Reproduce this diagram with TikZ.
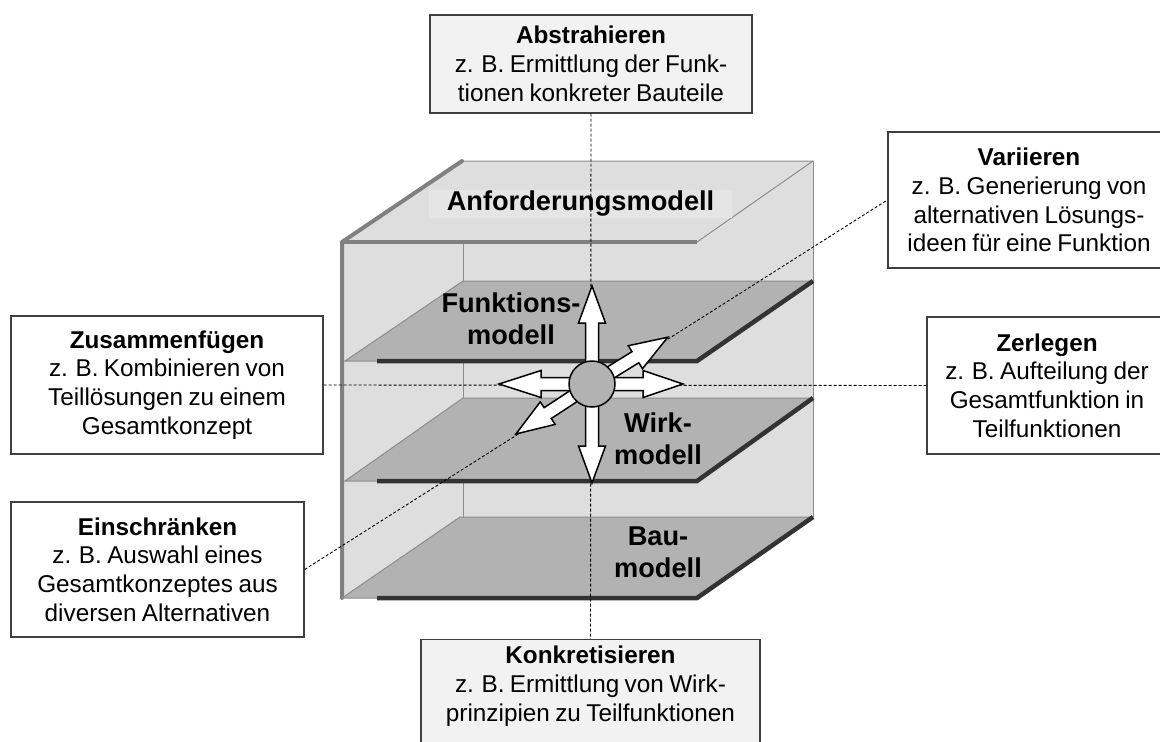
\documentclass[tikz,border=0pt]{standalone}
\usepackage{fontspec}
\setmainfont{Liberation Sans}[WordSpace=0.8]
\newcommand\dgboxfont{\fontsize{24.3}{28.7}\selectfont}
\newcommand\dglabelfont{\fontsize{27.2}{32}\selectfont\bfseries}
\definecolor{cubefill}{gray}{0.87}
\definecolor{labelbg}{gray}{0.9}
\definecolor{planefill}{gray}{0.7}
\definecolor{edgethick}{gray}{0.5}
\definecolor{edgethin}{gray}{0.55}
\definecolor{planeedge}{gray}{0.2}
\definecolor{boxline}{gray}{0.25}
\definecolor{boxfill}{gray}{0.95}
% block arrow leaving the hub: angle, tip distance, head length
\newcommand\dgarrow[3]{%
  \draw[blockarrow, shift={(hubc)}, rotate=#1]
    (15,-6.5) -- (#2-#3,-6.5) -- (#2-#3,-13.5) -- (#2,0)
    -- (#2-#3,13.5) -- (#2-#3,6.5) -- (15,6.5) -- cycle;}
\begin{document}
\begin{tikzpicture}[x=1pt,y=-1pt,
  box/.style={draw=boxline, line width=1.3pt, inner sep=0pt, align=center, font=\dgboxfont},
  planelabel/.style={align=center, inner sep=0pt, font=\dglabelfont},
  thinedge/.style={draw=edgethin, line width=1pt},
  thickedge/.style={draw=edgethick, line width=4pt},
  planefront/.style={draw=planeedge, line width=4.5pt, line join=miter},
  guide/.style={draw=black, line width=0.9pt, dash pattern=on 3pt off 2pt},
  blockarrow/.style={fill=white, draw=black, line width=1.5pt, line join=miter}]
\useasboundingbox (0,0) rectangle (1160,742);
\clip (0,0) rectangle (1160,742);

% cube body and back edges
\fill[cubefill] (342,242) -- (462,161) -- (813,161) -- (813,517) -- (697,598) -- (342,598) -- cycle;
\draw[thinedge] (463,242) -- (463,517) -- (813,517);
\draw[thinedge] (813,161) -- (813,517);
% top face
\draw[thinedge] (462,161) -- (813,161) -- (697,242);
\draw[thickedge, line cap=round] (342,598) -- (342,242) -- (462,161);
\draw[thickedge] (342,242) -- (697,242);

% layer planes
\foreach \yb/\yf/\xl in {281/361/345, 398/481/345, 517/598/342} {
  \filldraw[fill=planefill, draw=edgethin, line width=1pt]
    (\xl,\yf) -- (\xl+118,\yb) -- (813,\yb) -- (697,\yf) -- cycle;
  \draw[planefront] (377,\yf) -- (697,\yf) -- (813,\yb);
}

% layer labels
\node[fill=labelbg, minimum width=303pt, minimum height=28pt, inner sep=0pt] (anfbg) at (580.5,204) {};
\node[planelabel] (anf) at (580.5,204) {Anforderungsmodell};
\node[planelabel] (fkt) at (511,319) {Funktions-\\modell};
\node[planelabel] (wirk) at (658,439) {Wirk-\\modell};
\node[planelabel] (bau) at (658,552) {Bau-\\modell};

% operation boxes
\node[box, fill=boxfill, minimum width=322pt, minimum height=98pt] (abst) at (591,64)
  {\textbf{Abstrahieren}\\z. B. Ermittlung der Funk-\\tionen konkreter Bauteile};
\node[box, fill=white, minimum width=282pt, minimum height=136pt] (var) at (1029,200)
  {\textbf{Variieren}\\z. B. Generierung von\\alternativen Lösungs-\\ideen für eine Funktion};
\node[box, fill=white, minimum width=312pt, minimum height=138pt] (zus) at (167,385)
  {\textbf{Zusammenfügen}\\z. B. Kombinieren von\\Teillösungen zu einem\\Gesamtkonzept};
\node[box, fill=white, minimum width=240pt, minimum height=137pt] (zer) at (1047,385.5)
  {\textbf{Zerlegen}\\z. B. Aufteilung der\\Gesamtfunktion in\\Teilfunktionen};
\node[box, fill=white, minimum width=293pt, minimum height=135pt] (ein) at (157.5,569.5)
  {\textbf{Einschränken}\\z. B. Auswahl eines\\Gesamtkonzeptes aus\\diversen Alternativen};
\node[box, fill=boxfill, minimum width=339pt, minimum height=130pt, anchor=north] (konk) at (590.5,639) {};
\node[align=center, inner sep=0pt, font=\dgboxfont, anchor=north] (konktxt) at ([yshift=-7pt]konk.north)
  {\textbf{Konkretisieren}\\z. B. Ermittlung von Wirk-\\prinzipien zu Teilfunktionen};

% guide lines through the hub
\draw[guide] (abst.south) -- (konk.north);
\draw[guide] (zus.east) -- (zer.west);
\draw[guide] (ein.east) -- (var.west);

% hub with block arrows
\coordinate (hubc) at (592,384);
\dgarrow{90}{98}{37}
\dgarrow{270}{99}{37}
\dgarrow{180}{93}{42}
\dgarrow{0}{91}{40}
\dgarrow{31.7}{89}{38}
\dgarrow{213.3}{91}{38}
\node[circle, draw=black, line width=1.5pt, fill=planefill, minimum size=46pt, inner sep=0pt] (hub) at (hubc) {};
\end{tikzpicture}
\end{document}
